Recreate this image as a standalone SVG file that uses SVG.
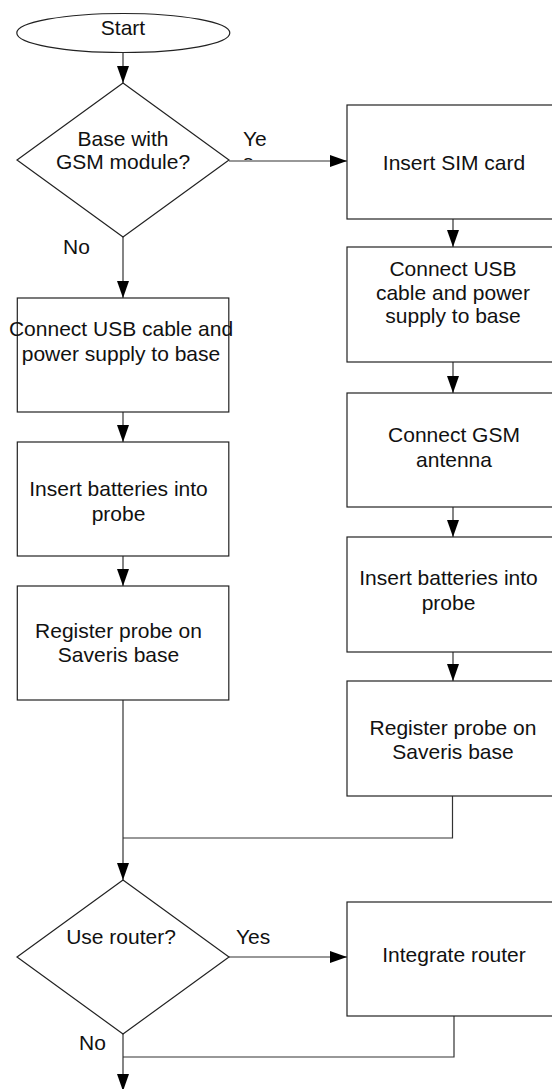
<svg xmlns="http://www.w3.org/2000/svg" width="552" height="1089" viewBox="0 0 552 1089">
<style>
.shape{fill:#fff;stroke:#222;stroke-width:1.2}
.conn{fill:none;stroke:#333;stroke-width:1.2}
text{font-family:"Liberation Sans",Arial,Helvetica,sans-serif;font-size:21px;fill:#111}
.c{text-anchor:middle}
</style>
<defs>
<marker id="arr" markerUnits="userSpaceOnUse" markerWidth="17" markerHeight="12" refX="17" refY="6" orient="auto">
<path d="M0,0 L17,6 L0,12 z" fill="#000"/>
</marker>
<clipPath id="ysclip"><rect x="230" y="120" width="60" height="40"/></clipPath>
</defs>
<rect width="552" height="1089" fill="#fff"/>
<g id="connectors">
<line class="conn" x1="123" y1="52" x2="123" y2="83" marker-end="url(#arr)"/>
<line class="conn" x1="229" y1="161" x2="347" y2="161" marker-end="url(#arr)"/>
<line class="conn" x1="123" y1="237" x2="123" y2="298" marker-end="url(#arr)"/>
<line class="conn" x1="123" y1="412" x2="123" y2="442" marker-end="url(#arr)"/>
<line class="conn" x1="123" y1="556" x2="123" y2="586" marker-end="url(#arr)"/>
<line class="conn" x1="453" y1="219" x2="453" y2="247" marker-end="url(#arr)"/>
<line class="conn" x1="453" y1="362" x2="453" y2="393" marker-end="url(#arr)"/>
<line class="conn" x1="453" y1="507" x2="453" y2="537" marker-end="url(#arr)"/>
<line class="conn" x1="453" y1="652" x2="453" y2="681" marker-end="url(#arr)"/>
<line class="conn" x1="123" y1="700" x2="123" y2="880" marker-end="url(#arr)"/>
<polyline class="conn" points="452.5,796 452.5,838 123,838"/>
<line class="conn" x1="229" y1="957" x2="347" y2="957" marker-end="url(#arr)"/>
<polyline class="conn" points="454,1016 454,1057 123,1057"/>
<line class="conn" x1="123" y1="1034" x2="123" y2="1091" marker-end="url(#arr)"/>
<text x="243" y="145.5">Ye</text>
<text x="243" y="168.5" clip-path="url(#ysclip)">s</text>
<text x="63" y="254">No</text>
<text x="236" y="944">Yes</text>
<text x="79" y="1050">No</text>
</g>
<g id="start">
<ellipse class="shape" cx="123.3" cy="33" rx="106.5" ry="19.5"/>
<text class="c" x="123" y="34.5">Start</text>
</g>
<g id="decision-gsm">
<polygon class="shape" points="123,83 229,160 123,237 17,160"/>
<text class="c" x="123" y="145.5">Base with</text>
<text class="c" x="123" y="168.5">GSM module?</text>
</g>
<g id="insert-sim">
<rect class="shape" x="347" y="105" width="212" height="114"/>
<text class="c" x="454" y="170">Insert SIM card</text>
</g>
<g id="gsm-connect-usb">
<rect class="shape" x="347" y="247" width="212" height="115"/>
<text class="c" x="453" y="276">Connect USB</text>
<text class="c" x="453" y="299.5">cable and power</text>
<text class="c" x="453" y="323">supply to base</text>
</g>
<g id="gsm-antenna">
<rect class="shape" x="347" y="393" width="212" height="114"/>
<text class="c" x="454" y="441.5">Connect GSM</text>
<text class="c" x="454" y="466.5">antenna</text>
</g>
<g id="gsm-batteries">
<rect class="shape" x="347" y="537" width="212" height="115"/>
<text class="c" x="448.5" y="585">Insert batteries into</text>
<text class="c" x="448.5" y="609.5">probe</text>
</g>
<g id="gsm-register">
<rect class="shape" x="347" y="681" width="212" height="115"/>
<text class="c" x="453" y="734.5">Register probe on</text>
<text class="c" x="453" y="758.5">Saveris base</text>
</g>
<g id="connect-usb">
<rect class="shape" x="17.3" y="298" width="211.5" height="114"/>
<text class="c" x="121" y="336">Connect USB cable and</text>
<text class="c" x="121" y="361">power supply to base</text>
</g>
<g id="insert-batteries">
<rect class="shape" x="17.3" y="442" width="211.5" height="114"/>
<text class="c" x="118.5" y="496">Insert batteries into</text>
<text class="c" x="118.5" y="520.5">probe</text>
</g>
<g id="register-probe">
<rect class="shape" x="17.3" y="586" width="211.5" height="114"/>
<text class="c" x="118.5" y="637.5">Register probe on</text>
<text class="c" x="118.5" y="662">Saveris base</text>
</g>
<g id="decision-router">
<polygon class="shape" points="123,880 229,957 123,1034 17,957"/>
<text class="c" x="121" y="944">Use router?</text>
</g>
<g id="integrate-router">
<rect class="shape" x="347" y="902" width="212" height="114"/>
<text class="c" x="454" y="961.5">Integrate router</text>
</g>
</svg>
